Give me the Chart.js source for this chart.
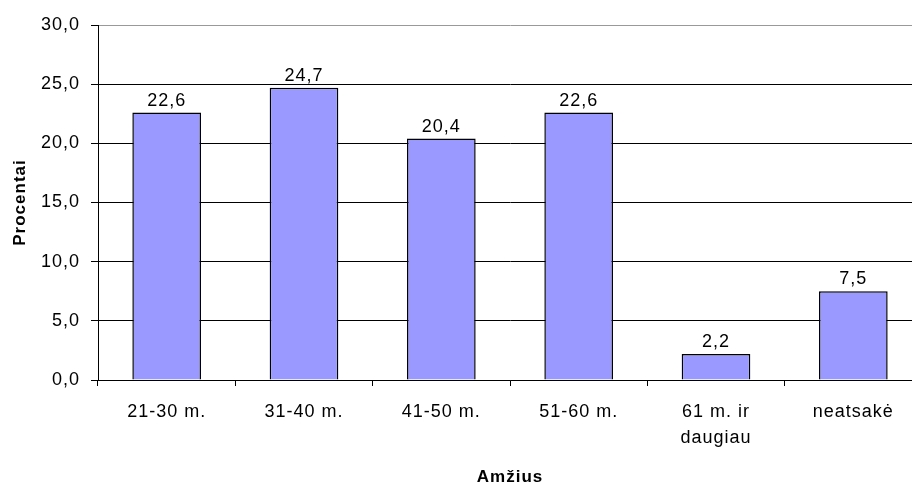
<!DOCTYPE html>
<html>
<head>
<meta charset="utf-8">
<script src="https://cdn.jsdelivr.net/npm/chart.js@4"></script>
<style>
  html, body { margin: 0; padding: 0; background: #fff; overflow: hidden; }
</style>
</head>
<body>
<canvas id="chart" width="930" height="486"></canvas>
<script>
// chart data
const categories = ['21-30 m.', '31-40 m.', '41-50 m.', '51-60 m.', ['61 m. ir', 'daugiau'], 'neatsakė'];
const percents = [22.6, 24.7, 20.4, 22.6, 2.2, 7.5];
const yTicks = [0, 5, 10, 15, 20, 25, 30];
const xTitle = 'Amžius';
const yTitle = 'Procentai';

const FONT = '"Liberation Sans", Arial, sans-serif';
const fmt = v => v.toFixed(1).replace('.', ',');

// the original text is a bit wider than Liberation Sans, add some spacing
const spacingPlugin = {
  id: 'spacing',
  beforeInit(chart) { chart.ctx.letterSpacing = '1px'; },
  beforeDraw(chart) { chart.ctx.letterSpacing = '1px'; },
};

// value labels above bars + axis titles
const labelsPlugin = {
  id: 'labels',
  afterDatasetsDraw(chart) {
    const ctx = chart.ctx;
    const meta = chart.getDatasetMeta(0);
    ctx.save();
    ctx.fillStyle = '#000';
    ctx.font = '18px ' + FONT;
    ctx.textAlign = 'center';
    ctx.textBaseline = 'alphabetic';
    meta.data.forEach((bar, i) => {
      ctx.fillText(fmt(percents[i]), bar.x, bar.y - 7);
    });
    // axis titles
    ctx.font = 'bold 17px ' + FONT;
    ctx.textBaseline = 'middle';
    const area = chart.chartArea;
    ctx.fillText(xTitle, (area.left + area.right) / 2, 477);
    ctx.translate(20, (area.top + area.bottom) / 2);
    ctx.rotate(-Math.PI / 2);
    ctx.fillText(yTitle, 0, 0);
    ctx.restore();
  }
};

const ctx = document.getElementById('chart').getContext('2d');
const chart = new Chart(ctx, {
  type: 'bar',
  data: {
    labels: categories,
    datasets: [{
      data: percents,
      backgroundColor: '#9999FF',
      borderColor: '#000',
      borderWidth: 1.5,
      barPercentage: 0.5,
      categoryPercentage: 1.0,
    }],
  },
  options: {
    responsive: false,
    animation: false,
    layout: { padding: { top: 25, right: 8, bottom: 0, left: 0 } },
    plugins: {
      legend: { display: false },
      tooltip: { enabled: false },
    },
    scales: {
      x: {
        afterFit(scale) { scale.height = 106; },
        grid: {
          offset: true,
          drawOnChartArea: false,
          drawTicks: true,
          tickLength: 6,
          color: '#000',
        },
        border: { color: '#000', width: 1 },
        ticks: {
          color: '#000',
          padding: 13,
          maxRotation: 0,
          autoSkip: false,
          font: { family: FONT, size: 18, lineHeight: 1.45 },
        },
      },
      y: {
        min: 0,
        max: 30,
        afterFit(scale) { scale.width = 98; },
        afterBuildTicks(scale) { scale.ticks = yTicks.map(v => ({ value: v })); },
        grid: {
          color: c => (c.tick && c.tick.value === 30) ? '#999' : '#000',
          tickColor: '#000',
          tickLength: 7,
          lineWidth: 1,
        },
        border: { color: '#000', width: 1 },
        ticks: {
          color: '#000',
          padding: 11,
          font: { family: FONT, size: 18 },
          callback: v => fmt(v),
        },
      },
    },
  },
  plugins: [spacingPlugin, labelsPlugin],
});
</script>
</body>
</html>
